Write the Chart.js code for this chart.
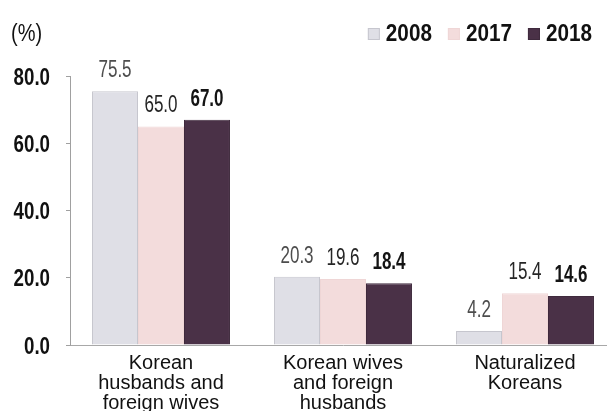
<!DOCTYPE html>
<html><head><meta charset="utf-8">
<script src="https://cdn.jsdelivr.net/npm/chart.js@4.4.1/dist/chart.umd.min.js"></script>
<style>
html,body{margin:0;padding:0;background:#fff;overflow:hidden;width:607px;height:411px}
#wrap{width:616px;height:421px}
</style></head>
<body><div id="wrap"><canvas id="c" width="616" height="421"></canvas></div>
<script>
// ---- data ----
const categories = [["Korean","husbands and","foreign wives"],["Korean wives","and foreign","husbands"],["Naturalized","Koreans"]];
const seriesNames = ["2008","2017","2018"];
const values2008 = [75.5, 20.3, 4.2];
const values2017 = [65.0, 19.6, 15.4];
const values2018 = [67.0, 18.4, 14.6];
const yTickValues = [0, 20, 40, 60, 80];
const unitLabel = "(%)";

// ---- styles ----
const SANS = '"Liberation Sans", Arial, sans-serif';
const fills = ["#dfdfe6", "#f3dcdc", "#4a3147"];
const borders = ["#c6c6ce", "#efd6d6", "#3f2a3d"];
const labelColors = ["#4d4d4d", "#262626", "#141414"];
const labelWeights = ["normal", "normal", "bold"];

function scaledText(ctx, text, x, y, sx, align, baseline) {
  ctx.save();
  ctx.translate(x, y);
  ctx.scale(sx, 1);
  ctx.textAlign = align;
  ctx.textBaseline = baseline;
  ctx.fillText(text, 0, 0);
  ctx.restore();
}

const dataLabelPlugin = {
  id: 'dataLabels',
  afterDatasetsDraw(chart) {
    const ctx = chart.ctx;
    ctx.save();
    chart.data.datasets.forEach((ds, i) => {
      const meta = chart.getDatasetMeta(i);
      ctx.font = labelWeights[i] + ' 23px ' + SANS;
      ctx.fillStyle = labelColors[i];
      meta.data.forEach((bar, j) => {
        scaledText(ctx, ds.data[j].toFixed(1), bar.x, bar.y - 14, 0.74, 'center', 'alphabetic');
      });
    });
    ctx.restore();
  }
};

const textPlugin = {
  id: 'customText',
  afterDraw(chart) {
    const ctx = chart.ctx;
    ctx.save();
    // y tick labels
    const ys = chart.scales.y;
    ctx.font = 'bold 24px ' + SANS;
    ctx.fillStyle = '#111';
    ys.ticks.forEach(t => {
      const py = ys.getPixelForValue(t.value);
      scaledText(ctx, Number(t.value).toFixed(1), 50, py + 2, 0.78, 'right', 'middle');
    });
    // unit label
    ctx.font = 'normal 23px ' + SANS;
    scaledText(ctx, unitLabel, 11, 35, 0.87, 'left', 'middle');
    // legend, right aligned
    ctx.font = 'bold 23px ' + SANS;
    const sx = 0.9;
    let x = 592;
    const items = chart.data.datasets.map((d, i) => ({label: d.label, i}));
    for (let k = items.length - 1; k >= 0; k--) {
      const it = items[k];
      const w = ctx.measureText(it.label).width * sx;
      const tx = x - w;
      ctx.fillStyle = '#111';
      scaledText(ctx, it.label, tx, 35, sx, 'left', 'middle');
      const bx = tx - 6 - 12;
      ctx.fillStyle = fills[it.i];
      ctx.fillRect(bx, 28, 12, 12);
      ctx.strokeStyle = borders[it.i];
      ctx.lineWidth = 1;
      ctx.strokeRect(bx + 0.5, 28.5, 11, 11);
      x = bx - 16;
    }
    ctx.restore();
  }
};

new Chart(document.getElementById('c'), {
  type: 'bar',
  data: {
    labels: categories,
    datasets: [
      {label: seriesNames[0], data: values2008, backgroundColor: fills[0], borderColor: borders[0], borderWidth: 1},
      {label: seriesNames[1], data: values2017, backgroundColor: fills[1], borderColor: borders[1], borderWidth: 1},
      {label: seriesNames[2], data: values2018, backgroundColor: fills[2], borderColor: borders[2], borderWidth: 1}
    ]
  },
  options: {
    responsive: false,
    animation: false,
    devicePixelRatio: 1,
    layout: {padding: {top: 76, right: 0, left: 0, bottom: 0}},
    categoryPercentage: 0.758,
    barPercentage: 1.0,
    plugins: {legend: {display: false}, tooltip: {enabled: false}},
    scales: {
      x: {
        grid: {display: true, drawOnChartArea: false, drawTicks: false},
        border: {display: true, color: '#a8a8a8', width: 1},
        ticks: {color: '#111', font: {family: SANS, size: 20, lineHeight: 1.0}, padding: 8, maxRotation: 0, autoSkip: false}
      },
      y: {
        min: 0, max: 80,
        afterBuildTicks(scale) { scale.ticks = yTickValues.map(v => ({value: v})); },
        afterFit(scale) { scale.width = 70; },
        grid: {display: true, drawOnChartArea: false, drawTicks: true, tickLength: 4, tickColor: '#a0a0a0'},
        border: {display: true, color: '#a0a0a0', width: 1},
        ticks: {display: false}
      }
    }
  },
  plugins: [dataLabelPlugin, textPlugin]
});
</script>
</body></html>
